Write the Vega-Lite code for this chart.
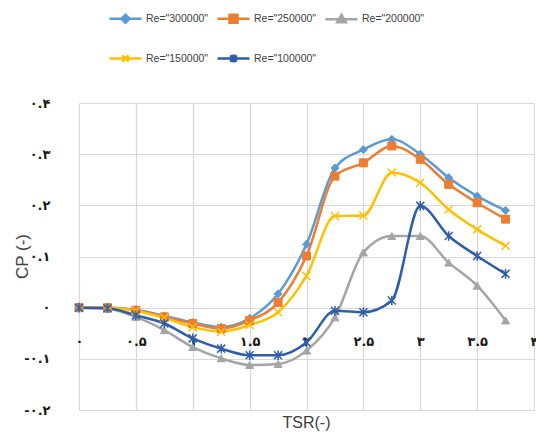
{
  "$schema": "https://vega.github.io/schema/vega-lite/v6.json",
  "width": 455,
  "height": 307,
  "autosize": {"type": "none"},
  "padding": {"left": 79, "top": 103, "right": 2, "bottom": 26},
  "background": "white",
  "config": {
    "view": {"stroke": null},
    "axis": {"gridColor": "#d9d9d9", "gridWidth": 1.2, "domain": false, "ticks": false, "tickSize": 0}
  },
  "data": {
    "values": [
      {"tsr": 0, "cp": 0, "re": "Re=\"300000\""},
      {"tsr": 0.25, "cp": 0, "re": "Re=\"300000\""},
      {"tsr": 0.5, "cp": -0.004, "re": "Re=\"300000\""},
      {"tsr": 0.75, "cp": -0.016, "re": "Re=\"300000\""},
      {"tsr": 1.0, "cp": -0.029, "re": "Re=\"300000\""},
      {"tsr": 1.25, "cp": -0.038, "re": "Re=\"300000\""},
      {"tsr": 1.5, "cp": -0.021, "re": "Re=\"300000\""},
      {"tsr": 1.75, "cp": 0.027, "re": "Re=\"300000\""},
      {"tsr": 2.0, "cp": 0.124, "re": "Re=\"300000\""},
      {"tsr": 2.25, "cp": 0.273, "re": "Re=\"300000\""},
      {"tsr": 2.5, "cp": 0.309, "re": "Re=\"300000\""},
      {"tsr": 2.75, "cp": 0.329, "re": "Re=\"300000\""},
      {"tsr": 3.0, "cp": 0.3, "re": "Re=\"300000\""},
      {"tsr": 3.25, "cp": 0.254, "re": "Re=\"300000\""},
      {"tsr": 3.5, "cp": 0.218, "re": "Re=\"300000\""},
      {"tsr": 3.75, "cp": 0.19, "re": "Re=\"300000\""},

      {"tsr": 0, "cp": 0, "re": "Re=\"250000\""},
      {"tsr": 0.25, "cp": 0, "re": "Re=\"250000\""},
      {"tsr": 0.5, "cp": -0.005, "re": "Re=\"250000\""},
      {"tsr": 0.75, "cp": -0.018, "re": "Re=\"250000\""},
      {"tsr": 1.0, "cp": -0.031, "re": "Re=\"250000\""},
      {"tsr": 1.25, "cp": -0.041, "re": "Re=\"250000\""},
      {"tsr": 1.5, "cp": -0.025, "re": "Re=\"250000\""},
      {"tsr": 1.75, "cp": 0.01, "re": "Re=\"250000\""},
      {"tsr": 2.0, "cp": 0.101, "re": "Re=\"250000\""},
      {"tsr": 2.25, "cp": 0.257, "re": "Re=\"250000\""},
      {"tsr": 2.5, "cp": 0.283, "re": "Re=\"250000\""},
      {"tsr": 2.75, "cp": 0.316, "re": "Re=\"250000\""},
      {"tsr": 3.0, "cp": 0.29, "re": "Re=\"250000\""},
      {"tsr": 3.25, "cp": 0.241, "re": "Re=\"250000\""},
      {"tsr": 3.5, "cp": 0.205, "re": "Re=\"250000\""},
      {"tsr": 3.75, "cp": 0.173, "re": "Re=\"250000\""},

      {"tsr": 0, "cp": 0, "re": "Re=\"200000\""},
      {"tsr": 0.25, "cp": -0.002, "re": "Re=\"200000\""},
      {"tsr": 0.5, "cp": -0.018, "re": "Re=\"200000\""},
      {"tsr": 0.75, "cp": -0.044, "re": "Re=\"200000\""},
      {"tsr": 1.0, "cp": -0.077, "re": "Re=\"200000\""},
      {"tsr": 1.25, "cp": -0.099, "re": "Re=\"200000\""},
      {"tsr": 1.5, "cp": -0.112, "re": "Re=\"200000\""},
      {"tsr": 1.75, "cp": -0.11, "re": "Re=\"200000\""},
      {"tsr": 2.0, "cp": -0.084, "re": "Re=\"200000\""},
      {"tsr": 2.25, "cp": -0.019, "re": "Re=\"200000\""},
      {"tsr": 2.5, "cp": 0.108, "re": "Re=\"200000\""},
      {"tsr": 2.75, "cp": 0.14, "re": "Re=\"200000\""},
      {"tsr": 3.0, "cp": 0.14, "re": "Re=\"200000\""},
      {"tsr": 3.25, "cp": 0.088, "re": "Re=\"200000\""},
      {"tsr": 3.5, "cp": 0.043, "re": "Re=\"200000\""},
      {"tsr": 3.75, "cp": -0.025, "re": "Re=\"200000\""},

      {"tsr": 0, "cp": 0, "re": "Re=\"150000\""},
      {"tsr": 0.25, "cp": 0, "re": "Re=\"150000\""},
      {"tsr": 0.5, "cp": -0.006, "re": "Re=\"150000\""},
      {"tsr": 0.75, "cp": -0.02, "re": "Re=\"150000\""},
      {"tsr": 1.0, "cp": -0.038, "re": "Re=\"150000\""},
      {"tsr": 1.25, "cp": -0.047, "re": "Re=\"150000\""},
      {"tsr": 1.5, "cp": -0.034, "re": "Re=\"150000\""},
      {"tsr": 1.75, "cp": -0.009, "re": "Re=\"150000\""},
      {"tsr": 2.0, "cp": 0.062, "re": "Re=\"150000\""},
      {"tsr": 2.25, "cp": 0.179, "re": "Re=\"150000\""},
      {"tsr": 2.5, "cp": 0.18, "re": "Re=\"150000\""},
      {"tsr": 2.75, "cp": 0.264, "re": "Re=\"150000\""},
      {"tsr": 3.0, "cp": 0.244, "re": "Re=\"150000\""},
      {"tsr": 3.25, "cp": 0.192, "re": "Re=\"150000\""},
      {"tsr": 3.5, "cp": 0.153, "re": "Re=\"150000\""},
      {"tsr": 3.75, "cp": 0.121, "re": "Re=\"150000\""},

      {"tsr": 0, "cp": 0, "re": "Re=\"100000\""},
      {"tsr": 0.25, "cp": -0.001, "re": "Re=\"100000\""},
      {"tsr": 0.5, "cp": -0.015, "re": "Re=\"100000\""},
      {"tsr": 0.75, "cp": -0.031, "re": "Re=\"100000\""},
      {"tsr": 1.0, "cp": -0.06, "re": "Re=\"100000\""},
      {"tsr": 1.25, "cp": -0.08, "re": "Re=\"100000\""},
      {"tsr": 1.5, "cp": -0.093, "re": "Re=\"100000\""},
      {"tsr": 1.75, "cp": -0.093, "re": "Re=\"100000\""},
      {"tsr": 2.0, "cp": -0.068, "re": "Re=\"100000\""},
      {"tsr": 2.25, "cp": -0.006, "re": "Re=\"100000\""},
      {"tsr": 2.5, "cp": -0.009, "re": "Re=\"100000\""},
      {"tsr": 2.75, "cp": 0.014, "re": "Re=\"100000\""},
      {"tsr": 3.0, "cp": 0.199, "re": "Re=\"100000\""},
      {"tsr": 3.25, "cp": 0.14, "re": "Re=\"100000\""},
      {"tsr": 3.5, "cp": 0.101, "re": "Re=\"100000\""},
      {"tsr": 3.75, "cp": 0.066, "re": "Re=\"100000\""}
    ]
  },
  "encoding": {
    "x": {
      "field": "tsr", "type": "quantitative",
      "scale": {"domain": [0, 4], "nice": false, "zero": false},
      "axis": {
        "values": [0, 0.5, 1, 1.5, 2, 2.5, 3, 3.5, 4],
        "offset": -69,
        "labelBaseline": "middle",
        "labelPadding": 0,
        "labelFont": "DejaVu Sans",
        "labelFontSize": 13,
        "labelFontWeight": "bold",
        "labelColor": "#1a1a1a",
        "labelFlush": false,
        "labelOverlap": false,
        "labelExpr": "['۰','۰.۵','۱','۱.۵','۲','۲.۵','۳','۳.۵','۴'][round(datum.value*2)]",
        "title": "TSR(-)",
        "titleFont": "Liberation Sans",
        "titleFontSize": 16,
        "titleFontWeight": "normal",
        "titleColor": "#404040",
        "titleBaseline": "middle",
        "titleX": 227,
        "titleY": 81
      }
    },
    "y": {
      "field": "cp", "type": "quantitative",
      "scale": {"domain": [-0.2, 0.4], "nice": false, "zero": false},
      "axis": {
        "values": [-0.2, -0.1, 0, 0.1, 0.2, 0.3, 0.4],
        "labelPadding": 29,
        "labelFont": "DejaVu Sans",
        "labelFontSize": 13,
        "labelFontWeight": "bold",
        "labelColor": "#1a1a1a",
        "labelFlush": false,
        "labelOverlap": false,
        "labelExpr": "['-۰.۲','-۰.۱','۰','۰.۱','۰.۲','۰.۳','۰.۴'][round(datum.value*10)+2]",
        "title": "CP (-)",
        "titleFont": "Liberation Sans",
        "titleFontSize": 17,
        "titleFontWeight": "normal",
        "titleColor": "#404040",
        "titleAngle": -90,
        "titleAlign": "center",
        "titleBaseline": "middle",
        "titleX": -57,
        "titleY": 153
      }
    }
  },
  "layer": [
    {
      "mark": {"type": "line", "interpolate": "monotone", "strokeWidth": 2.5},
      "encoding": {
        "color": {
          "field": "re", "type": "nominal",
          "scale": {
            "domain": ["Re=\"300000\"", "Re=\"250000\"", "Re=\"200000\"", "Re=\"150000\"", "Re=\"100000\""],
            "range": ["#5B9BD5", "#ED7D31", "#A5A5A5", "#FFC000", "#2E5EAA"]
          },
          "legend": {
            "orient": "none",
            "legendX": 29,
            "legendY": -102,
            "direction": "horizontal",
            "columns": 3,
            "title": null,
            "padding": 0,
            "rowPadding": 13,
            "columnPadding": 3,
            "symbolSize": 1024,
            "symbolStrokeWidth": 2.5,
            "labelFont": "Liberation Sans",
            "labelFontSize": 10.5,
            "labelColor": "#404040",
            "labelOffset": 3,
            "encode": {
              "symbols": {
                "update": {
                  "shape": {"signal": "indexof(datum.value,'300000')>=0 ? 'M-1,0L1,0M0,-0.25L0.25,0L0,0.25L-0.25,0Z' : indexof(datum.value,'250000')>=0 ? 'M-1,0L1,0M-0.25,-0.25L0.25,-0.25L0.25,0.25L-0.25,0.25Z' : indexof(datum.value,'200000')>=0 ? 'M-1,0L1,0M0,-0.27L0.27,0.2L-0.27,0.2Z' : indexof(datum.value,'150000')>=0 ? 'M-1,0L1,0M-0.2,-0.2L0.2,0.2M-0.2,0.2L0.2,-0.2' : 'M-1,0L1,0M-0.2,-0.2L0.2,0.2M-0.2,0.2L0.2,-0.2M0,-0.25L0,0.25'"},
                  "fill": {"scale": "color", "field": "value"},
                  "stroke": {"scale": "color", "field": "value"},
                  "strokeWidth": {"value": 2.5},
                  "size": {"value": 1024},
                  "opacity": {"value": 1}
                }
              }
            }
          }
        }
      }
    },
    {
      "transform": [{"filter": "indexof(datum.re,'300000')>=0"}],
      "mark": {"type": "point", "shape": "diamond", "filled": true, "size": 64, "fill": "#5B9BD5", "stroke": "#5B9BD5", "strokeWidth": 1, "opacity": 1}
    },
    {
      "transform": [{"filter": "indexof(datum.re,'250000')>=0"}],
      "mark": {"type": "point", "shape": "square", "filled": true, "size": 64, "fill": "#ED7D31", "stroke": "#ED7D31", "strokeWidth": 1, "opacity": 1}
    },
    {
      "transform": [{"filter": "indexof(datum.re,'200000')>=0"}],
      "mark": {"type": "point", "shape": "triangle-up", "filled": true, "size": 64, "fill": "#A5A5A5", "stroke": "#A5A5A5", "strokeWidth": 1, "opacity": 1}
    },
    {
      "transform": [{"filter": "indexof(datum.re,'150000')>=0"}],
      "mark": {"type": "point", "shape": "M-1,-1L1,1M-1,1L1,-1", "filled": true, "size": 64, "fill": "#FFC000", "stroke": "#FFC000", "strokeWidth": 1.5, "opacity": 1}
    },
    {
      "transform": [{"filter": "indexof(datum.re,'100000')>=0"}],
      "mark": {"type": "point", "shape": "M-1,-1L1,1M-1,1L1,-1M0,-1.2L0,1.2", "filled": true, "size": 64, "fill": "#2E5EAA", "stroke": "#2E5EAA", "strokeWidth": 1.5, "opacity": 1}
    }
  ]
}
